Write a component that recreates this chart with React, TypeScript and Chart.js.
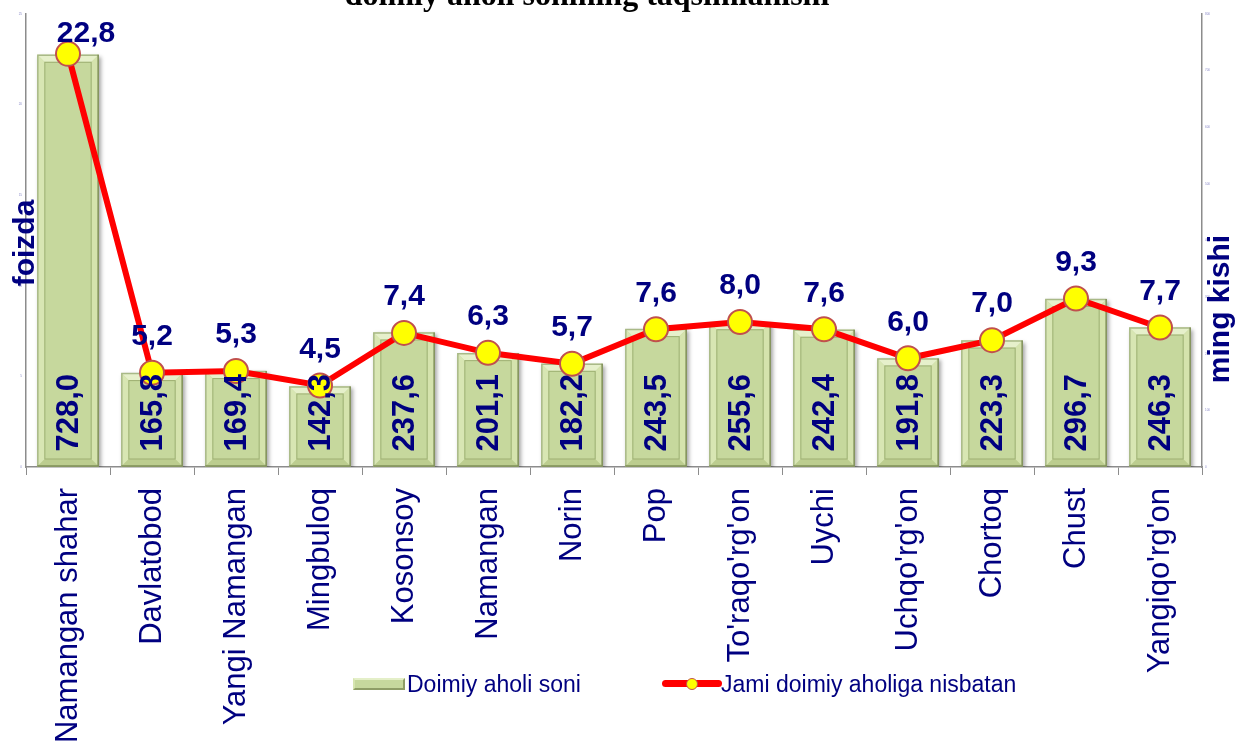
import React, { useEffect, useRef } from "react";
import { Chart, registerables } from "chart.js";

Chart.register(...registerables);

const categories = [
  "Namangan shahar",
  "Davlatobod",
  "Yangi Namangan",
  "Mingbuloq",
  "Kosonsoy",
  "Namangan",
  "Norin",
  "Pop",
  "To'raqo'rg'on",
  "Uychi",
  "Uchqo'rg'on",
  "Chortoq",
  "Chust",
  "Yangiqo'rg'on",
];

// Doimiy aholi soni (ming kishi) – bars, right axis
const populationThousands = [728.0, 165.8, 169.4, 142.3, 237.6, 201.1, 182.2, 243.5, 255.6, 242.4, 191.8, 223.3, 296.7, 246.3];

// Jami doimiy aholiga nisbatan (foizda) – line, left axis
const sharePercent = [22.8, 5.2, 5.3, 4.5, 7.4, 6.3, 5.7, 7.6, 8.0, 7.6, 6.0, 7.0, 9.3, 7.7];

const percentTicks = [0, 5, 10, 15, 20, 25];
const thousandTicks = [0, 100, 200, 300, 400, 500, 600, 700, 800];

const TITLE = "doimiy aholi sonining taqsimlanishi";
const BAR_LEGEND = "Doimiy aholi soni";
const LINE_LEGEND = "Jami doimiy aholiga nisbatan";
const LEFT_TITLE = "foizda";
const RIGHT_TITLE = "ming kishi";

const NAVY = "#000080";
const SANS = "'Liberation Sans', Arial, sans-serif";

const fmt = (v: number) => v.toFixed(1).replace(".", ",");

const bevelPlugin = {
  id: "bevelBars",
  beforeDatasetDraw(chart: any, args: any) {
    const meta = chart.getDatasetMeta(args.index);
    if (meta.type !== "bar") return;
    const ctx = chart.ctx;
    ctx.save();
    ctx.shadowColor = "rgba(0,0,0,0.35)";
    ctx.shadowBlur = 4;
    ctx.shadowOffsetX = 2;
    ctx.shadowOffsetY = 2;
  },
  afterDatasetDraw(chart: any, args: any) {
    const meta = chart.getDatasetMeta(args.index);
    if (meta.type !== "bar") return;
    const ctx = chart.ctx;
    ctx.restore();
    ctx.save();
    meta.data.forEach((el: any) => {
      const { x, y, base, width } = el.getProps(["x", "y", "base", "width"], true);
      const l = x - width / 2;
      const r = x + width / 2;
      const t = Math.min(y, base);
      const b = Math.max(y, base);
      const bw = 7;
      const poly = (pts: number[][], color: string) => {
        ctx.beginPath();
        ctx.moveTo(pts[0][0], pts[0][1]);
        for (let i = 1; i < pts.length; i++) ctx.lineTo(pts[i][0], pts[i][1]);
        ctx.closePath();
        ctx.fillStyle = color;
        ctx.fill();
      };
      poly([[l, t], [r, t], [r - bw, t + bw], [l + bw, t + bw]], "#e6f0cb");
      poly([[l, t], [l + bw, t + bw], [l + bw, b - bw], [l, b]], "#d8e6b3");
      poly([[r, t], [r, b], [r - bw, b - bw], [r - bw, t + bw]], "#d5e3ad");
      poly([[l, b], [l + bw, b - bw], [r - bw, b - bw], [r, b]], "#bccd8f");
      ctx.strokeStyle = "rgba(140,158,95,0.7)";
      ctx.lineWidth = 1;
      ctx.strokeRect(l + bw + 0.5, t + bw + 0.5, width - 2 * bw - 1, b - t - 2 * bw - 1);
      ctx.lineWidth = 1.5;
      ctx.strokeStyle = "#a9b987";
      ctx.beginPath();
      ctx.moveTo(l + 0.5, b);
      ctx.lineTo(l + 0.5, t + 0.5);
      ctx.lineTo(r, t + 0.5);
      ctx.stroke();
      ctx.strokeStyle = "#7f8e58";
      ctx.beginPath();
      ctx.moveTo(r - 0.5, t);
      ctx.lineTo(r - 0.5, b - 0.5);
      ctx.lineTo(l, b - 0.5);
      ctx.stroke();
    });
    ctx.restore();
  },
};

const labelPlugin = {
  id: "valueLabels",
  afterDatasetsDraw(chart: any) {
    const ctx = chart.ctx;
    const lineMeta = chart.getDatasetMeta(0);
    const barMeta = chart.getDatasetMeta(1);
    ctx.save();
    ctx.fillStyle = NAVY;
    ctx.font = `bold 31px ${SANS}`;
    barMeta.data.forEach((el: any, i: number) => {
      const { x, base } = el.getProps(["x", "base"], true);
      ctx.save();
      ctx.translate(x + 1, base - 15);
      ctx.rotate(-Math.PI / 2);
      ctx.textAlign = "left";
      ctx.textBaseline = "middle";
      ctx.fillText(fmt(populationThousands[i]), 0, 0);
      ctx.restore();
    });
    ctx.font = `bold 30px ${SANS}`;
    lineMeta.data.forEach((el: any, i: number) => {
      const { x, y } = el.getProps(["x", "y"], true);
      let ly = y - 36;
      let lx = x;
      if (ly < 34) {
        ly = 34;
        lx = x + 18;
      }
      ctx.textAlign = "center";
      ctx.textBaseline = "middle";
      ctx.fillText(fmt(sharePercent[i]), lx, ly);
    });
    ctx.font = `bold 30px ${SANS}`;
    ctx.save();
    ctx.translate(34, 243);
    ctx.rotate(-Math.PI / 2);
    ctx.textAlign = "center";
    ctx.textBaseline = "alphabetic";
    ctx.fillText(LEFT_TITLE, 0, 0);
    ctx.restore();
    ctx.save();
    ctx.translate(1229, 309);
    ctx.rotate(-Math.PI / 2);
    ctx.textAlign = "center";
    ctx.textBaseline = "alphabetic";
    ctx.fillText(RIGHT_TITLE, 0, 0);
    ctx.restore();
    ctx.restore();
  },
};

export default function App() {
  const canvasRef = useRef<HTMLCanvasElement | null>(null);

  useEffect(() => {
    if (!canvasRef.current) return;
    const chart = new Chart(canvasRef.current, {
      type: "bar",
      data: {
        labels: categories,
        datasets: [
          {
            type: "line",
            label: LINE_LEGEND,
            data: sharePercent,
            yAxisID: "yL",
            borderColor: "#ff0000",
            borderWidth: 6,
            pointRadius: 12,
            pointBackgroundColor: "#ffff00",
            pointBorderColor: "#c0504d",
            pointBorderWidth: 2,
            tension: 0,
            order: 0,
          } as any,
          {
            type: "bar",
            label: BAR_LEGEND,
            data: populationThousands,
            yAxisID: "yR",
            backgroundColor: "#c6d89d",
            borderWidth: 0,
            categoryPercentage: 1,
            barPercentage: 0.73,
            order: 1,
          } as any,
        ],
      },
      options: {
        responsive: false,
        animation: false,
        devicePixelRatio: 1,
        layout: { padding: { top: 14, left: 0, right: 0, bottom: 0 } },
        plugins: {
          legend: { display: false },
          tooltip: { enabled: false },
          title: { display: false },
        },
        scales: {
          x: {
            type: "category",
            offset: true,
            grid: {
              display: true,
              drawOnChartArea: false,
              drawTicks: true,
              tickLength: 8,
              color: "#8c8c8c",
              offset: true,
            },
            border: { display: true, color: "#8c8c8c", width: 1.5 },
            ticks: {
              autoSkip: false,
              maxRotation: 90,
              minRotation: 90,
              padding: 13,
              color: NAVY,
              font: { family: SANS, size: 31 },
            },
            afterFit: (s: any) => {
              s.height = 280;
            },
          },
          yL: {
            position: "left",
            min: percentTicks[0],
            max: percentTicks[percentTicks.length - 1],
            ticks: {
              stepSize: percentTicks[1] - percentTicks[0],
              color: "#8a8ac8",
              font: { family: SANS, size: 3 },
              padding: 4,
            },
            grid: { display: true, drawOnChartArea: false, drawTicks: false },
            border: { display: true, color: "#8c8c8c", width: 1.5 },
            afterFit: (s: any) => {
              s.width = 26;
            },
          },
          yR: {
            position: "right",
            min: thousandTicks[0],
            max: thousandTicks[thousandTicks.length - 1],
            ticks: {
              stepSize: thousandTicks[1] - thousandTicks[0],
              color: "#8a8ac8",
              font: { family: SANS, size: 3 },
              padding: 3,
            },
            grid: { display: true, drawOnChartArea: false, drawTicks: false },
            border: { display: true, color: "#8c8c8c", width: 1.5 },
            afterFit: (s: any) => {
              s.width = 36;
            },
          },
        },
      } as any,
      plugins: [bevelPlugin, labelPlugin],
    });
    return () => chart.destroy();
  }, []);

  return (
    <div
      style={{
        position: "fixed",
        left: 0,
        top: 0,
        width: 1238,
        height: 747,
        background: "#ffffff",
        overflow: "hidden",
      }}
    >
      <canvas ref={canvasRef} width={1238} height={747} style={{ width: 1238, height: 747, display: "block" }} />
      <div
        style={{
          position: "absolute",
          left: 587,
          top: -22,
          transform: "translateX(-50%)",
          whiteSpace: "nowrap",
          font: "bold 32px 'Liberation Serif', 'Times New Roman', serif",
          lineHeight: "32px",
          color: "#000000",
        }}
      >
        {TITLE}
      </div>
      <div style={{ position: "absolute", left: 353, top: 678, width: 52, height: 12, boxSizing: "border-box", background: "#c6d89d", borderStyle: "solid", borderWidth: 2, borderColor: "#e4efc8 #8e9d66 #8e9d66 #d6e5b0" }} />
      <div style={{ position: "absolute", left: 407, top: 670, font: `23px ${SANS}`, lineHeight: "28px", color: NAVY, whiteSpace: "nowrap" }}>{BAR_LEGEND}</div>
      <div style={{ position: "absolute", left: 662, top: 680, width: 60, height: 7, borderRadius: 3.5, background: "#ff0000" }} />
      <div style={{ position: "absolute", left: 686, top: 678, width: 12, height: 12, boxSizing: "border-box", borderRadius: "50%", background: "#ffff00", border: "1.5px solid #c0504d" }} />
      <div style={{ position: "absolute", left: 721, top: 670, font: `23px ${SANS}`, lineHeight: "28px", color: NAVY, whiteSpace: "nowrap" }}>{LINE_LEGEND}</div>
    </div>
  );
}
